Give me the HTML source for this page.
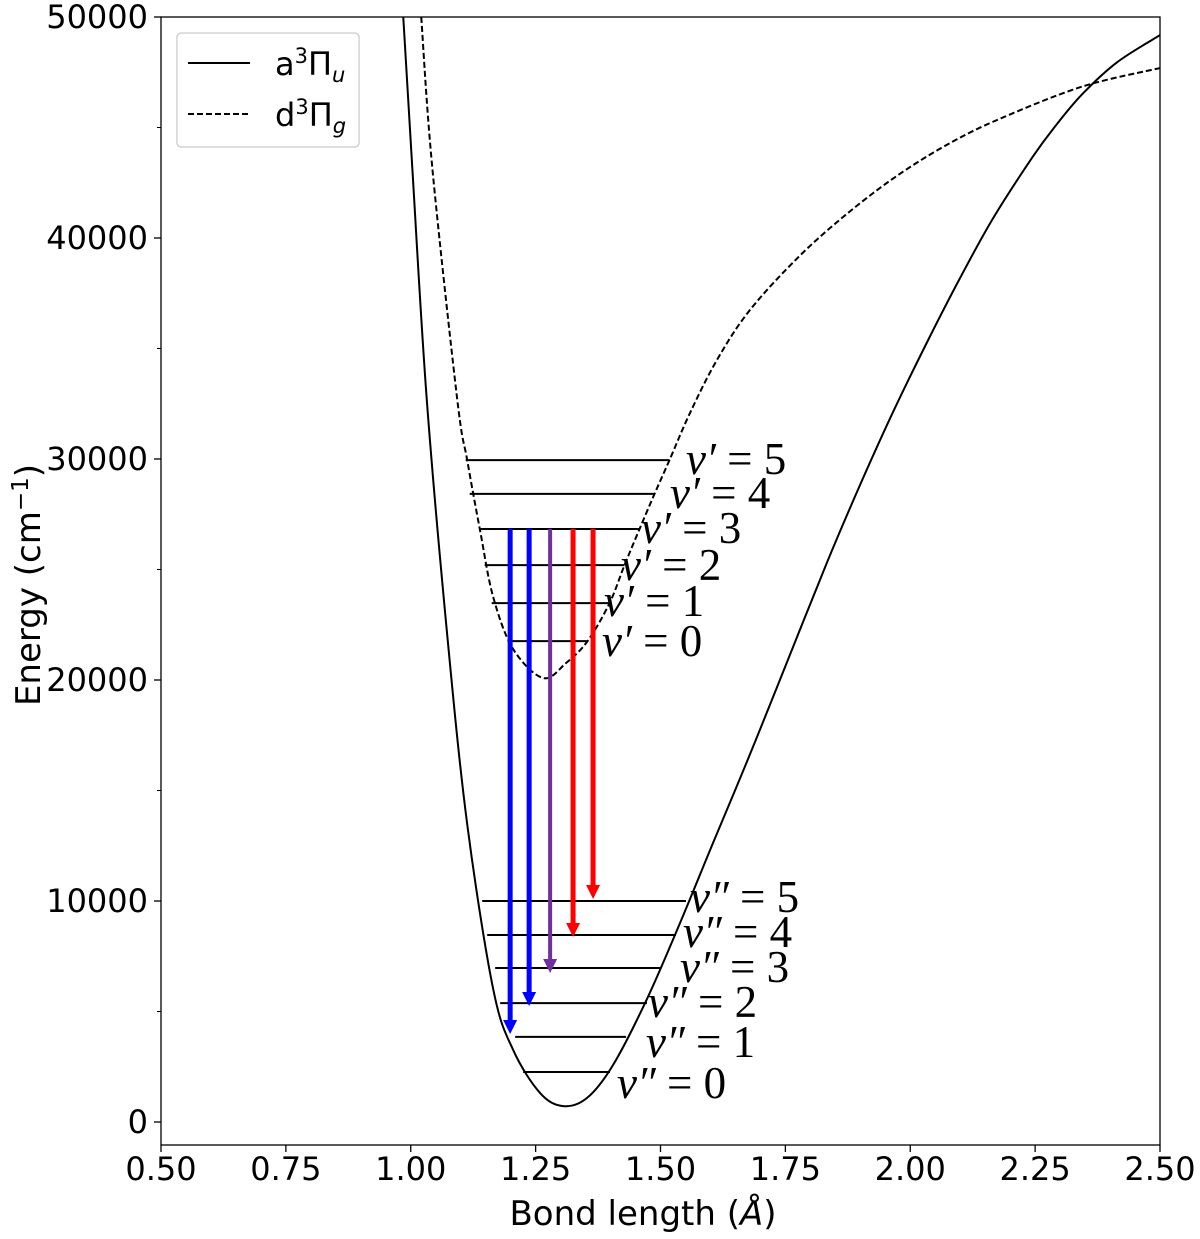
<!DOCTYPE html>
<html><head><meta charset="utf-8"><style>
html,body{margin:0;padding:0;background:#fff;}
svg{display:block;font-family:"DejaVu Sans","Liberation Sans",sans-serif;}
.lab{font-family:"Liberation Serif",serif;font-size:45px;fill:#000;}
.lab tspan.v{font-style:italic;}
</style></head><body>
<svg id="chart" width="1200" height="1239" viewBox="0 0 1200 1239">
<defs><clipPath id="clip"><rect x="161" y="17" width="999" height="1128"/></clipPath></defs>
<g id="plot" clip-path="url(#clip)"></g>
<g id="axes"></g>
</svg>
<script>
// Data
const solidR = [0.985,1.003,1.032,1.073,1.113,1.165,1.205,1.259,1.305,1.353,1.405,1.473,1.539,1.605,1.673,1.739,1.833,1.899,1.965,2.034,2.100,2.166,2.246,2.290,2.344,2.414,2.500];
const solidE = [50000,43210,32710,22040,13480,6020,3260,1310,720,1090,2580,5570,9000,12620,16300,20000,25300,28800,32100,35300,38200,40900,43700,45050,46500,47950,49180];
const dashR = [1.021,1.043,1.093,1.113,1.139,1.165,1.205,1.265,1.311,1.354,1.398,1.428,1.458,1.488,1.518,1.559,1.613,1.679,1.779,1.879,1.979,2.080,2.180,2.344,2.500];
const dashE = [50000,43210,32710,29950,26740,23760,21400,20090,20770,21760,23480,25200,26830,28420,29950,32080,34480,36740,39200,41200,42900,44300,45400,46850,47690];
const upperE = [21760,23480,25200,26830,28420,29950];
const upperL = [1.194,1.162,1.148,1.138,1.118,1.110];
const upperR = [1.354,1.398,1.428,1.458,1.488,1.518];
const lowerE = [2260,3850,5380,6970,8460,10000];
const lowerL = [1.225,1.209,1.179,1.169,1.153,1.143];
const lowerR = [1.399,1.431,1.473,1.499,1.531,1.551];
const arrowR = [1.199,1.237,1.279,1.325,1.365];
const arrowFrom = [26830,26830,26830,26830,26830];
const arrowTo = [3980,5250,6740,8370,10090];
const arrowColor = ['#0000ff','#0000ff','#7030a0','#ff0000','#ff0000'];
const xTicks = [0.5,0.75,1.0,1.25,1.5,1.75,2.0,2.25,2.5];
const xTickLabels = ['0.50','0.75','1.00','1.25','1.50','1.75','2.00','2.25','2.50'];
const yTicks = [0,10000,20000,30000,40000,50000];
const yMinor = [5000,15000,25000,35000,45000];

const X = r => 161 + (r-0.5)*499.5;
const Y = e => 1122 - e*0.0221;
const NS='http://www.w3.org/2000/svg';
const plot=document.getElementById('plot'), axes=document.getElementById('axes');
function mk(tag,attrs,parent){const e=document.createElementNS(NS,tag);for(const k in attrs)e.setAttribute(k,attrs[k]);parent.appendChild(e);return e;}
function smooth(xs,ys){
  const p=xs.map((r,i)=>[X(r),Y(ys[i])]);
  let d='M'+p[0][0]+','+p[0][1];
  for(let i=0;i<p.length-1;i++){
    const p0=p[Math.max(0,i-1)],p1=p[i],p2=p[i+1],p3=p[Math.min(p.length-1,i+2)];
    const c1=[p1[0]+(p2[0]-p0[0])/6,p1[1]+(p2[1]-p0[1])/6];
    const c2=[p2[0]-(p3[0]-p1[0])/6,p2[1]-(p3[1]-p1[1])/6];
    d+=` C${c1[0]},${c1[1]} ${c2[0]},${c2[1]} ${p2[0]},${p2[1]}`;
  }
  return d;
}
let s=mk('path',{d:smooth(solidR,solidE),fill:'none',stroke:'#000','stroke-width':2},plot);


let dd=mk('path',{d:smooth(dashR,dashE),fill:'none',stroke:'#000','stroke-width':2,'stroke-dasharray':'6,3'},plot);


for(let i=0;i<upperE.length;i++){
  const l=mk('line',{x1:X(upperL[i]),x2:X(upperR[i]),y1:Y(upperE[i]),y2:Y(upperE[i]),stroke:'#000','stroke-width':2},plot);
  
  
}
for(let i=0;i<lowerE.length;i++){
  const l=mk('line',{x1:X(lowerL[i]),x2:X(lowerR[i]),y1:Y(lowerE[i]),y2:Y(lowerE[i]),stroke:'#000','stroke-width':2},plot);
  
  
}
for(let i=0;i<arrowR.length;i++){
  const g=mk('g',{},plot);
  
  
  const x=X(arrowR[i]),y1=Y(arrowFrom[i]),y2=Y(arrowTo[i]);
  const w=i==2?4:5;
  mk('line',{x1:x,x2:x,y1:y1,y2:y2-12,stroke:arrowColor[i],'stroke-width':w},g);
  mk('polygon',{points:`${x-7},${y2-14} ${x+7},${y2-14} ${x},${y2}`,fill:arrowColor[i]},g);
}
</script>
<svg style="position:absolute;left:0;top:0" width="1200" height="1239">
<g>
<text class="lab" x="686" y="474"><tspan class="v">v′</tspan> = 5</text>
<text class="lab" x="670" y="508"><tspan class="v">v′</tspan> = 4</text>
<text class="lab" x="641" y="543"><tspan class="v">v′</tspan> = 3</text>
<text class="lab" x="621" y="580"><tspan class="v">v′</tspan> = 2</text>
<text class="lab" x="604" y="616"><tspan class="v">v′</tspan> = 1</text>
<text class="lab" x="602" y="656"><tspan class="v">v′</tspan> = 0</text>
</g>
<g>
<text class="lab" x="690" y="912"><tspan class="v">v″</tspan> = 5</text>
<text class="lab" x="683" y="947"><tspan class="v">v″</tspan> = 4</text>
<text class="lab" x="680" y="982"><tspan class="v">v″</tspan> = 3</text>
<text class="lab" x="648" y="1017"><tspan class="v">v″</tspan> = 2</text>
<text class="lab" x="646" y="1057"><tspan class="v">v″</tspan> = 1</text>
<text class="lab" x="617" y="1098"><tspan class="v">v″</tspan> = 0</text>
</g>
</svg>
<script>
(function(){
  const ax=document.getElementById('axes');
  mk('rect',{x:161,y:17,width:999,height:1128,fill:'none',stroke:'#000','stroke-width':1.3},ax);
  xTicks.forEach((t,i)=>{
    const x=X(t);
    mk('line',{x1:x,x2:x,y1:1145,y2:1152,stroke:'#000','stroke-width':1.3},ax);
    const tx=mk('text',{x:x,y:1180,'text-anchor':'middle','font-size':32},ax);
    tx.textContent=xTickLabels[i];
    
    
  });
  yTicks.forEach(t=>{
    const y=Y(t);
    mk('line',{x1:154,x2:161,y1:y,y2:y,stroke:'#000','stroke-width':1.3},ax);
    const tx=mk('text',{x:148,y:y+11,'text-anchor':'end','font-size':32},ax);
    tx.textContent=String(t);
    
    
  });
  yMinor.forEach(t=>{const y=Y(t);mk('line',{x1:157,x2:161,y1:y,y2:y,stroke:'#000','stroke-width':1},ax);});
  const xl=mk('text',{x:643,y:1225,'text-anchor':'middle','font-size':34},ax);
  xl.innerHTML='Bond length (<tspan font-style="italic">Å</tspan>)';
  
  
  const yl=mk('text',{x:0,y:0,'text-anchor':'middle','font-size':34,transform:'translate(40,585) rotate(-90)'},ax);
  yl.innerHTML='Energy (cm<tspan dy="-12" font-size="23">−1</tspan><tspan dy="12">)</tspan>';
  
  
  const lg=mk('g',{},ax);
  
  
  mk('rect',{x:177,y:33,width:182,height:114,rx:4,fill:'#fff',stroke:'#ccc','stroke-width':1.3},lg);
  mk('line',{x1:188,x2:250,y1:63,y2:63,stroke:'#000','stroke-width':2},lg);
  mk('line',{x1:188,x2:250,y1:114,y2:114,stroke:'#000','stroke-width':2,'stroke-dasharray':'6,3'},lg);
  const t1=mk('text',{x:275,y:75,'font-size':32},lg);
  t1.innerHTML='a<tspan dy="-12" font-size="21">3</tspan><tspan dy="12">Π</tspan><tspan dy="7" font-size="21" font-style="italic">u</tspan>';
  const t2=mk('text',{x:275,y:126,'font-size':32},lg);
  t2.innerHTML='d<tspan dy="-12" font-size="21">3</tspan><tspan dy="12">Π</tspan><tspan dy="7" font-size="21" font-style="italic">g</tspan>';
})();
</script>
</body></html>
